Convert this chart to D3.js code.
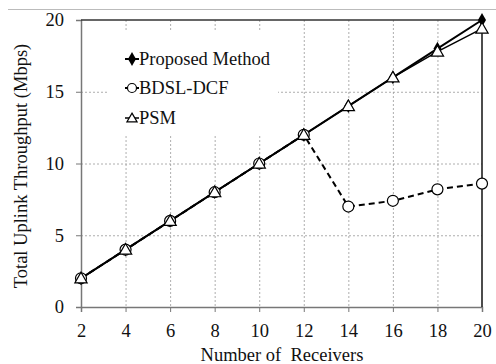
<!DOCTYPE html>
<html>
<head>
<meta charset="utf-8">
<script src="https://cdn.jsdelivr.net/npm/d3@7"></script>
<style>
  body { margin: 0; background: #fff; }
  svg text { font-family: "Liberation Serif", "Times New Roman", serif !important; fill: #111; }
</style>
</head>
<body>
<div id="chart"></div>
<script>
const receivers = [2, 4, 6, 8, 10, 12, 14, 16, 18, 20]
const proposed = [2, 4, 6, 8, 10, 12, 14, 16, 18, 20]
const bdsl = [2, 4, 6, 8, 10, 12, 7.0, 7.4, 8.2, 8.6]
const psm = [2, 4, 6, 8, 10, 12, 14, 16, 17.8, 19.4]
const yTicks = [0, 5, 10, 15, 20]
const seriesNames = ['Proposed Method', 'BDSL-DCF', 'PSM']

const w = 496, h = 364
const pLeft = 81, pRight = 482, pTop = 20, pBottom = 307
const fs = 18.5

const svg = d3.select('#chart').append('svg')
    .attr('width', w)
    .attr('height', h)

const xScale = d3.scaleLinear().domain([2, 20]).range([pLeft, pRight])
const yScale = d3.scaleLinear().domain([0, 20]).range([pBottom, pTop])

// thin frame line at very top
svg.append('line')
    .attr('x1', 8).attr('x2', w).attr('y1', 9.5).attr('y2', 9.5)
    .attr('stroke', '#bbb').attr('stroke-width', 1)

// grid
svg.append('g').selectAll('line')
    .data(receivers.slice(1, -1))
    .enter().append('line')
    .attr('x1', d => xScale(d) + 0.5).attr('x2', d => xScale(d) + 0.5)
    .attr('y1', pTop).attr('y2', pBottom)
    .attr('stroke', '#999').attr('stroke-width', 0.8).attr('stroke-dasharray', '2,2')

svg.append('g').selectAll('line')
    .data(yTicks.slice(1, -1))
    .enter().append('line')
    .attr('x1', pLeft).attr('x2', pRight)
    .attr('y1', d => yScale(d) + 0.5).attr('y2', d => yScale(d) + 0.5)
    .attr('stroke', '#999').attr('stroke-width', 0.8).attr('stroke-dasharray', '2,2')

// legend background hides the grid
svg.append('rect')
    .attr('x', 108).attr('y', 30).attr('width', 170).attr('height', 105)
    .attr('fill', '#fff')

// axes
const xAxis = d3.axisBottom(xScale).tickValues(receivers).tickSize(5).tickPadding(12)
const gx = svg.append('g')
    .attr('transform', 'translate(0,' + pBottom + ')')
    .call(xAxis)
gx.select('.domain').attr('stroke', '#777').attr('stroke-width', 1.5)
gx.selectAll('.tick line').attr('stroke', '#777')
gx.selectAll('text').style('font-size', fs + 'px').attr('fill', '#111')

const yAxis = d3.axisLeft(yScale).tickValues(yTicks).tickSize(5).tickPadding(12)
const gy = svg.append('g')
    .attr('transform', 'translate(' + pLeft + ',0)')
    .call(yAxis)
gy.select('.domain').attr('stroke', '#777').attr('stroke-width', 1.5)
gy.selectAll('.tick line').attr('stroke', '#777')
gy.selectAll('text').style('font-size', fs + 'px').attr('fill', '#111')

// top and right border
svg.append('line')
    .attr('x1', pLeft).attr('x2', pRight).attr('y1', pTop).attr('y2', pTop)
    .attr('stroke', '#333').attr('stroke-width', 1.5)
svg.append('line')
    .attr('x1', pRight).attr('x2', pRight).attr('y1', pTop).attr('y2', pBottom)
    .attr('stroke', '#111').attr('stroke-width', 1.5)

// axis titles
svg.append('text')
    .attr('x', 282).attr('y', 361)
    .attr('text-anchor', 'middle').style('font-size', fs + 'px')
    .style('white-space', 'pre')
    .text('Number of  Receivers')

svg.append('text')
    .attr('transform', 'translate(27,' + 166 + ') rotate(-90)')
    .attr('text-anchor', 'middle').style('font-size', fs + 'px')
    .text('Total Uplink Throughput (Mbps)')

const line = d3.line()
    .x((d, i) => xScale(receivers[i]))
    .y(d => yScale(d))

// series lines
svg.append('path').datum(proposed).attr('d', line)
    .attr('fill', 'none').attr('stroke', '#000').attr('stroke-width', 2)
svg.append('path').datum(bdsl).attr('d', line)
    .attr('fill', 'none').attr('stroke', '#000').attr('stroke-width', 2).attr('stroke-dasharray', '6,4')
svg.append('path').datum(psm).attr('d', line)
    .attr('fill', 'none').attr('stroke', '#000').attr('stroke-width', 1.5)

// markers
const diamond = d3.symbol().type(d3.symbolDiamond).size(55)
const tri = d3.symbol().type(d3.symbolTriangle).size(65)

svg.append('g').selectAll('path')
    .data(proposed).enter().append('path')
    .attr('d', diamond)
    .attr('transform', (d, i) => 'translate(' + xScale(receivers[i]) + ',' + yScale(d) + ')')
    .attr('fill', '#000')

svg.append('g').selectAll('circle')
    .data(bdsl).enter().append('circle')
    .attr('cx', (d, i) => xScale(receivers[i]))
    .attr('cy', d => yScale(d))
    .attr('r', 5.5)
    .attr('fill', '#fff').attr('stroke', '#000').attr('stroke-width', 1.2)

svg.append('g').selectAll('path')
    .data(psm).enter().append('path')
    .attr('d', tri)
    .attr('transform', (d, i) => 'translate(' + xScale(receivers[i]) + ',' + (yScale(d) + 1) + ')')
    .attr('fill', '#fff').attr('stroke', '#000').attr('stroke-width', 1.2)

// legend
const legend = svg.append('g')
const rowY = [59, 88, 118]
seriesNames.forEach((name, i) => {
    const y = rowY[i]
    const l = legend.append('line')
        .attr('x1', 125).attr('x2', 139).attr('y1', y).attr('y2', y)
        .attr('stroke', '#000').attr('stroke-width', i === 2 ? 1.5 : 2)
    if (i === 1) l.attr('stroke-dasharray', '3,3')
    if (i === 0) {
        legend.append('path').attr('d', diamond)
            .attr('transform', 'translate(132,' + y + ')').attr('fill', '#000')
    } else if (i === 1) {
        legend.append('circle').attr('cx', 132).attr('cy', y).attr('r', 4.5)
            .attr('fill', '#fff').attr('stroke', '#000').attr('stroke-width', 1.2)
    } else {
        legend.append('path').attr('d', d3.symbol().type(d3.symbolTriangle).size(45))
            .attr('transform', 'translate(132,' + (y + 1) + ')')
            .attr('fill', '#fff').attr('stroke', '#000').attr('stroke-width', 1.2)
    }
    legend.append('text')
        .attr('x', 139).attr('y', y + 6)
        .style('font-size', fs + 'px')
        .text(name)
})
</script>
</body>
</html>
